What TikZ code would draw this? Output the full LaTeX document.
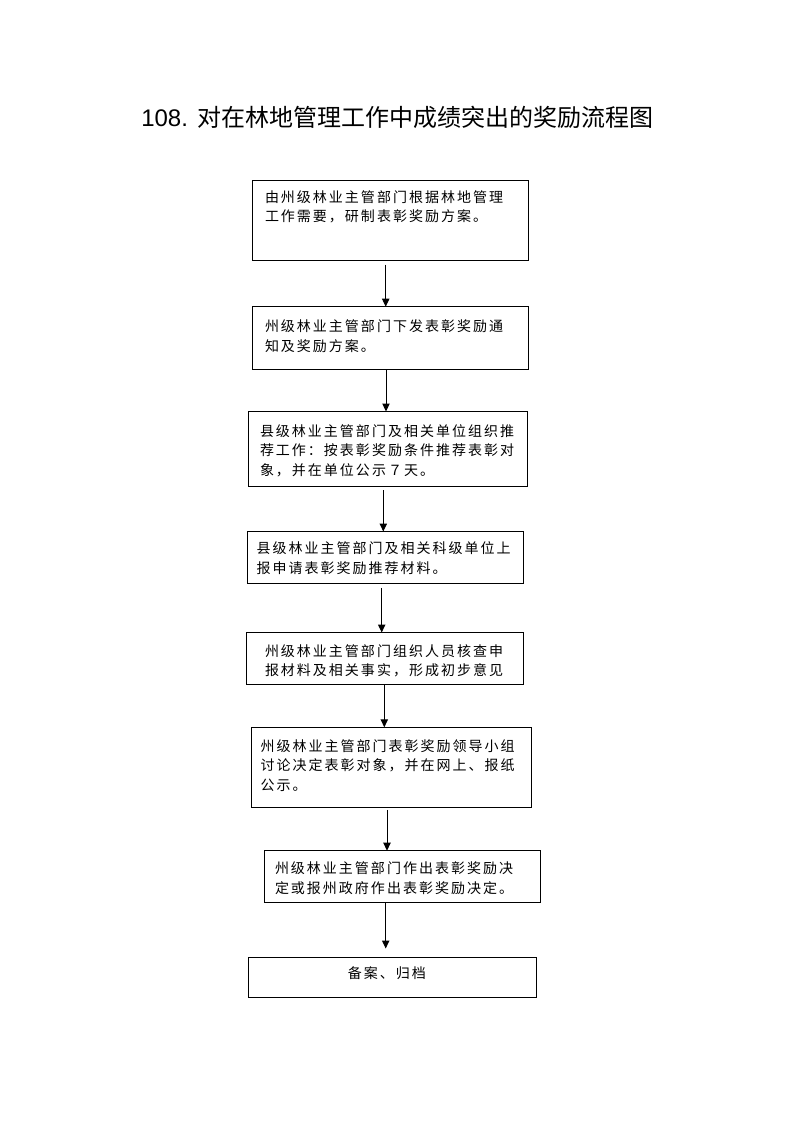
\documentclass[tikz,border=0pt]{standalone}
\usepackage{fontspec}
\setmainfont{Liberation Sans}
\newfontfamily\cjkbody{Noto Sans CJK SC}[LetterSpace=14.3]
\newfontfamily\cjktitle{Noto Sans CJK SC}
\usetikzlibrary{arrows.meta}
\def\pu{0.75pt}
\tikzset{
  box/.style={draw=black, line width=0.75pt, inner sep=0pt, outer sep=0pt, anchor=north west, fill=none},
  txt/.style={inner sep=0pt, outer sep=0pt, align=left, anchor=west, font=\cjkbody\fontsize{10.5}{14.6}\selectfont},
  arr/.style={draw=black, line width=0.75pt, -{Triangle[length=6pt,width=5.5pt]}}
}
\begin{document}
\begin{tikzpicture}[x=0.75pt, y=-0.75pt]
\useasboundingbox (0,0) rectangle (793,1122);
\fill[white] (0,0) rectangle (793,1122);
% title
\node[inner sep=0pt, anchor=west] (title) at (141,117.5)
  {\fontsize{18}{20}\selectfont 108.\hspace{7.5pt}\cjktitle 对在林地管理工作中成绩突出的奖励流程图};
% boxes
\node[box, minimum width=276.2*\pu, minimum height=80*\pu] (b1) at (252.5,180.7) {};
\node[box, minimum width=276.2*\pu, minimum height=62.3*\pu] (b2) at (252.5,306.7) {};
\node[box, minimum width=279*\pu, minimum height=74.5*\pu] (b3) at (248.5,411.5) {};
\node[box, minimum width=276.2*\pu, minimum height=51.8*\pu] (b4) at (247.3,531.5) {};
\node[box, minimum width=276.3*\pu, minimum height=51.5*\pu] (b5) at (246.7,632.5) {};
\node[box, minimum width=279.3*\pu, minimum height=80*\pu] (b6) at (251.7,727.3) {};
\node[box, minimum width=276.5*\pu, minimum height=51.6*\pu] (b7) at (264,850.7) {};
\node[box, minimum width=287.5*\pu, minimum height=40.4*\pu] (b8) at (248.5,957.3) {};
% texts
\node[txt] (t1) at (265,207) {由州级林业主管部门根据林地管理\\工作需要，研制表彰奖励方案。};
\node[txt] (t2) at (265,336.3) {州级林业主管部门下发表彰奖励通\\知及奖励方案。};
\node[txt] (t3) at (260,450.6) {县级林业主管部门及相关单位组织推\\荐工作：按表彰奖励条件推荐表彰对\\象，并在单位公示７天。};
\node[txt] (t4) at (256.7,558.3) {县级林业主管部门及相关科级单位上\\报申请表彰奖励推荐材料。};
\node[txt] (t5) at (265,661) {州级林业主管部门组织人员核查申\\报材料及相关事实，形成初步意见};
\node[txt] (t6) at (260.7,765.6) {州级林业主管部门表彰奖励领导小组\\讨论决定表彰对象，并在网上、报纸\\公示。};
\node[txt] (t7) at (275,878.3) {州级林业主管部门作出表彰奖励决\\定或报州政府作出表彰奖励决定。};
\node[txt, anchor=center] (t8) at (386.8,973.3) {备案、归档};
% arrows
\coordinate (e7) at (385.7,948.5);
\draw[arr, shorten <=3pt] (b1.south -| 385.7,0) -- (b2.north -| 385.7,0);
\draw[arr] (b2.south -| 386,0) -- (b3.north -| 386,0);
\draw[arr, shorten <=3pt] (b3.south -| 383.3,0) -- (b4.north -| 383.3,0);
\draw[arr, shorten <=3.5pt] (b4.south -| 381.7,0) -- (b5.north -| 381.7,0);
\draw[arr] (b5.south -| 384.3,0) -- (b6.north -| 384.3,0);
\draw[arr, shorten <=2pt] (b6.south -| 387,0) -- (b7.north -| 387,0);
\draw[arr] (b7.south -| 385.7,0) -- (e7);
\end{tikzpicture}
\end{document}
